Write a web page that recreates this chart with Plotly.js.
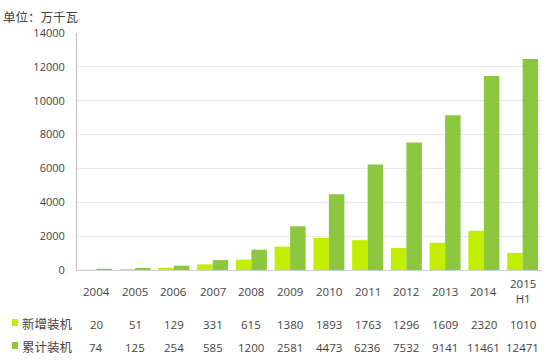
<!DOCTYPE html>
<html>
<head>
<meta charset="utf-8">
<script src="https://cdn.plot.ly/plotly-3.0.1.min.js"></script>
<style>html,body{margin:0;padding:0;background:#fff;}#chart{width:550px;height:362px;}</style>
</head>
<body>
<div id="chart"></div>
<script>
const years = ['2004','2005','2006','2007','2008','2009','2010','2011','2012','2013','2014','2015<br>H1'];
const newInstalled = [20, 51, 129, 331, 615, 1380, 1893, 1763, 1296, 1609, 2320, 1010];
const cumulative = [74, 125, 254, 585, 1200, 2581, 4473, 6236, 7532, 9141, 11461, 12471];
const seriesNames = ['新增装机', '累计装机'];
const unitLabel = '单位：万千瓦';

const W = 550, H = 362;
const L = 77, R = 8, T = 33, B = 92;
const plotH = H - T - B, plotW = W - L - R;
const py = p => (H - B - p) / plotH;      // pixel y -> paper y
const px = p => (p - L) / plotW;          // pixel x -> paper x

const colNew = '#c2ef00';
const colCum = '#8dc63f';
const txt = '#444';
const numFont = {family: 'Open Sans, Liberation Sans, sans-serif', size: 11.5, color: txt};
const tickFont = {family: 'Open Sans, Liberation Sans, sans-serif', size: 11, color: txt};
const cjkFont = {family: 'Noto Sans CJK SC, sans-serif', size: 12.5, color: txt};

const idx = years.map((_, i) => i);

const traces = [
  {type: 'bar', x: idx, y: newInstalled, name: seriesNames[0], marker: {color: colNew}},
  {type: 'bar', x: idx, y: cumulative, name: seriesNames[1], marker: {color: colCum}}
];

const annotations = [];
idx.forEach(i => {
  annotations.push({x: i, y: py(291), xref: 'x', yref: 'paper', text: years[i], showarrow: false,
    xanchor: 'center', yanchor: 'middle', font: numFont});
  annotations.push({x: i, y: py(324), xref: 'x', yref: 'paper', text: String(newInstalled[i]), showarrow: false,
    xanchor: 'center', yanchor: 'middle', font: numFont});
  annotations.push({x: i, y: py(347), xref: 'x', yref: 'paper', text: String(cumulative[i]), showarrow: false,
    xanchor: 'center', yanchor: 'middle', font: numFont});
});
annotations.push({x: px(20), y: py(323), xref: 'paper', yref: 'paper', text: seriesNames[0], showarrow: false,
  xanchor: 'left', yanchor: 'middle', font: cjkFont});
annotations.push({x: px(20), y: py(346), xref: 'paper', yref: 'paper', text: seriesNames[1], showarrow: false,
  xanchor: 'left', yanchor: 'middle', font: cjkFont});
annotations.push({x: px(2), y: py(17), xref: 'paper', yref: 'paper', text: unitLabel, showarrow: false,
  xanchor: 'left', yanchor: 'middle', borderpad: 0,
  font: {family: 'Noto Sans CJK SC, sans-serif', size: 12.5, color: txt}});

const shapes = [
  {type: 'rect', xref: 'paper', yref: 'paper', x0: px(12), x1: px(18), y0: py(326), y1: py(319),
    fillcolor: colNew, line: {width: 0}},
  {type: 'rect', xref: 'paper', yref: 'paper', x0: px(12), x1: px(18), y0: py(349), y1: py(342),
    fillcolor: colCum, line: {width: 0}}
];

const layout = {
  width: W, height: H,
  margin: {l: L, r: R, t: T, b: B, pad: 0},
  paper_bgcolor: '#fff', plot_bgcolor: '#fff',
  barmode: 'group', bargap: 0.2, bargroupgap: 0,
  showlegend: false,
  xaxis: {type: 'linear', range: [-0.5, years.length - 0.5], showticklabels: false, showgrid: false, zeroline: false,
    showline: true, linecolor: '#d0d0d0', linewidth: 1, ticks: ''},
  yaxis: {range: [0, 14000], dtick: 2000, tickformat: 'd', showgrid: true, gridcolor: '#e8e8e8', gridwidth: 1,
    zeroline: false, showline: true, linecolor: '#bfbfbf', linewidth: 1, ticks: '',
    tickfont: tickFont, ticklabelstandoff: 9},
  annotations: annotations,
  shapes: shapes,
  font: numFont
};

Plotly.newPlot('chart', traces, layout, {displayModeBar: false, staticPlot: true});
</script>
</body>
</html>
